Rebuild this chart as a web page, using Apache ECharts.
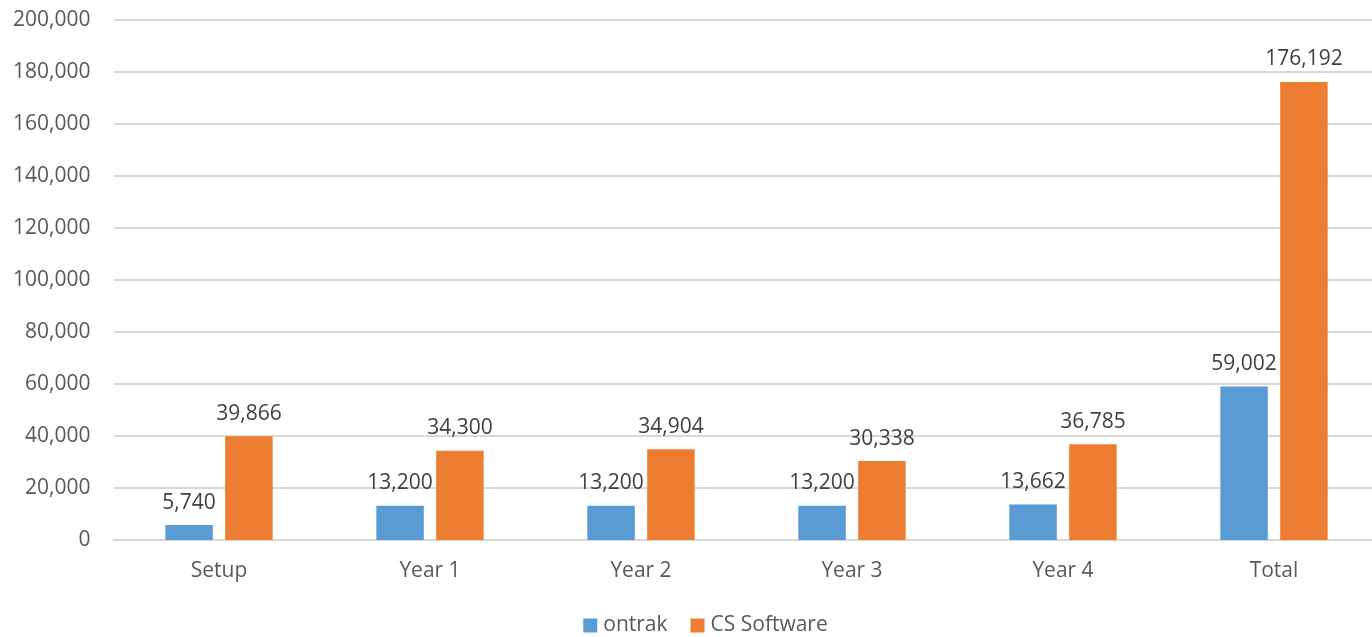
<!DOCTYPE html>
<html>
<head>
<meta charset="utf-8">
<script src="https://cdn.jsdelivr.net/npm/echarts@6/dist/echarts.min.js"></script>
<style>
html,body{margin:0;padding:0;background:#fff;overflow:hidden;width:1372px;height:637px;}
#c{width:1411px;height:637px;}
</style>
</head>
<body>
<div id="c"></div>
<script>
const categories = ['Setup', 'Year 1', 'Year 2', 'Year 3', 'Year 4', 'Total'];
const ontrak = [5740, 13200, 13200, 13200, 13662, 59002];
const csSoftware = [39866, 34300, 34904, 30338, 36785, 176192];
const seriesNames = ['ontrak', 'CS Software'];

const FONT = "'Open Sans', 'Noto Sans', sans-serif";
const fmt = v => v.toLocaleString('en-US');

const chart = echarts.init(document.getElementById('c'));
const labelCfg = {
  show: true, position: 'top', distance: 12,
  color: '#404040', fontSize: 21, fontFamily: FONT,
  formatter: p => fmt(p.value)
};
chart.setOption({
  animation: false,
  grid: { left: 113.5, top: 20, width: 1266, height: 520, containLabel: false },
  legend: {
    bottom: -4, left: 'center',
    data: seriesNames,
    itemWidth: 14, itemHeight: 14, itemGap: 23,
    icon: 'rect',
    textStyle: { color: '#595959', fontSize: 21, fontFamily: FONT, padding: [0, 0, 0, 1] }
  },
  xAxis: {
    type: 'category', data: categories,
    axisLine: { lineStyle: { color: '#d9d9d9', width: 2 } },
    axisTick: { show: false },
    axisLabel: { color: '#595959', fontSize: 21, fontFamily: FONT, margin: 21 }
  },
  yAxis: {
    type: 'value', min: 0, max: 200000, interval: 20000,
    axisLine: { show: false }, axisTick: { show: false },
    splitLine: { lineStyle: { color: '#d9d9d9', width: 2 } },
    axisLabel: { color: '#595959', fontSize: 21, fontFamily: FONT, margin: 23, formatter: v => fmt(v) }
  },
  series: [
    { name: seriesNames[0], type: 'bar', data: ontrak, barWidth: 47.5, barGap: '26%',
      itemStyle: { color: '#5B9BD5' }, label: labelCfg },
    { name: seriesNames[1], type: 'bar', data: csSoftware, barWidth: 47.5, barGap: '26%',
      itemStyle: { color: '#ED7D31' }, label: labelCfg }
  ]
});
</script>
</body>
</html>
